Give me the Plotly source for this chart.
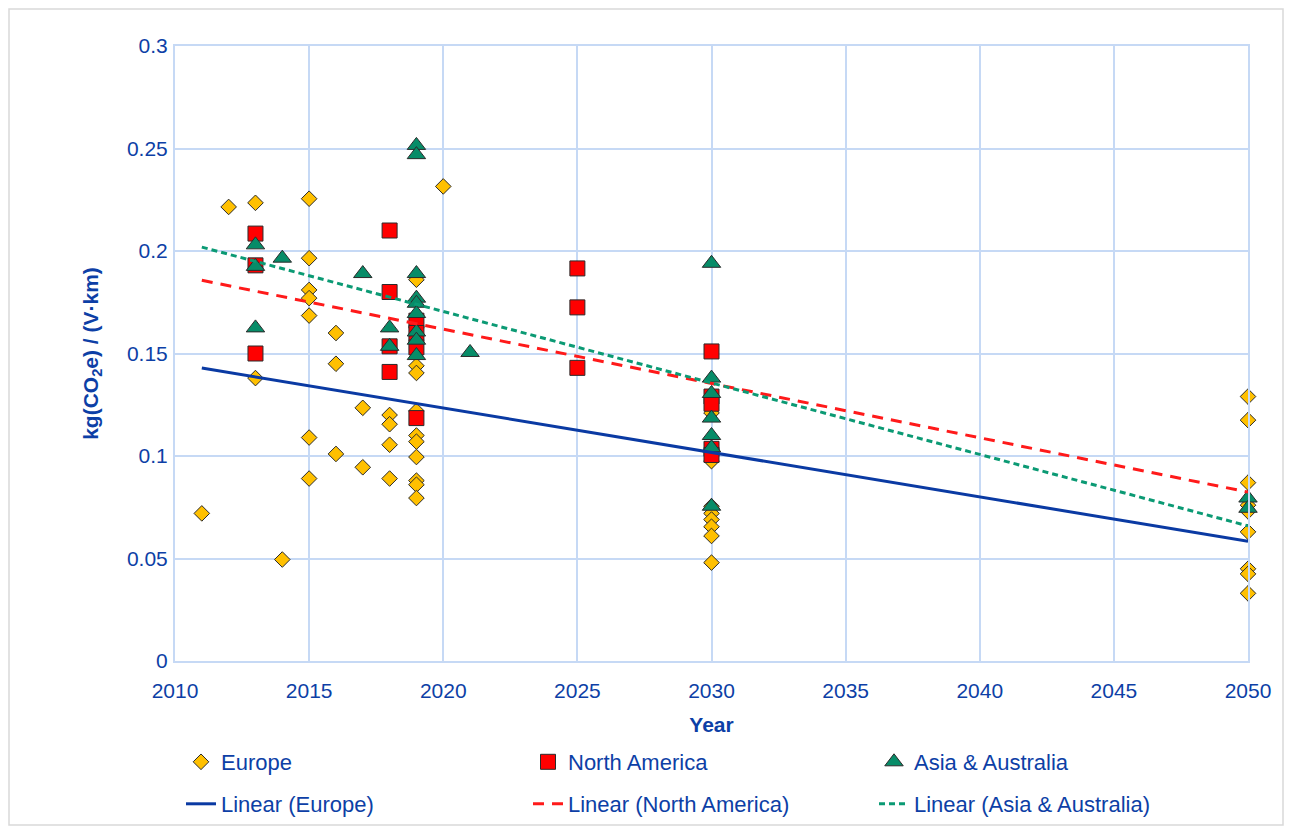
import plotly.graph_objects as go

# ---------------- data ----------------
europe_years = [2011, 2012, 2013, 2013, 2014,
                2015, 2015, 2015, 2015, 2015, 2015, 2015,
                2016, 2016, 2016, 2017, 2017,
                2018, 2018, 2018, 2018,
                2019, 2019, 2019, 2019, 2019, 2019, 2019, 2019, 2019, 2019,
                2020,
                2030, 2030, 2030, 2030, 2030, 2030, 2030, 2030,
                2050, 2050, 2050, 2050, 2050, 2050, 2050, 2050, 2050]
europe_vals = [0.072, 0.2215, 0.2235, 0.138, 0.0495,
               0.2255, 0.1965, 0.181, 0.177, 0.1685, 0.109, 0.089,
               0.160, 0.145, 0.101, 0.1235, 0.0945,
               0.120, 0.1155, 0.1055, 0.089,
               0.186, 0.144, 0.1405, 0.122, 0.110, 0.107, 0.0995, 0.088, 0.086, 0.0795,
               0.2315,
               0.121, 0.0975, 0.0755, 0.072, 0.069, 0.0655, 0.061, 0.048,
               0.129, 0.1175, 0.087, 0.076, 0.073, 0.063, 0.045, 0.0425, 0.033]

na_years = [2013, 2013, 2013,
            2018, 2018, 2018, 2018,
            2019, 2019, 2019, 2019,
            2025, 2025, 2025,
            2030, 2030, 2030, 2030, 2030]
na_vals = [0.2085, 0.193, 0.150,
           0.210, 0.180, 0.1535, 0.141,
           0.166, 0.160, 0.153, 0.1185,
           0.1915, 0.1725, 0.143,
           0.151, 0.129, 0.1255, 0.1035, 0.1005]

asia_years = [2013, 2013, 2013, 2014, 2017, 2018, 2018,
              2019, 2019, 2019, 2019, 2019, 2019, 2019, 2019, 2019,
              2021,
              2030, 2030, 2030, 2030, 2030, 2030, 2030,
              2050, 2050]
asia_vals = [0.203, 0.1925, 0.1625, 0.1965, 0.189, 0.1625, 0.1535,
             0.2515, 0.247, 0.189, 0.177, 0.1745, 0.1695, 0.1605, 0.1565, 0.149,
             0.1505,
             0.194, 0.138, 0.1305, 0.1185, 0.110, 0.104, 0.0755,
             0.0795, 0.0745]

# linear trend lines (end values)
trend_years = [2011, 2050]
trend_europe = [0.1429, 0.0584]
trend_na = [0.1857, 0.0824]
trend_asia = [0.2019, 0.0659]

x_ticks = [2010, 2015, 2020, 2025, 2030, 2035, 2040, 2045, 2050]
y_ticks = [0, 0.05, 0.1, 0.15, 0.2, 0.25, 0.3]
y_tick_text = ["0", "0.05", "0.1", "0.15", "0.2", "0.25", "0.3"]

# ---------------- styling ----------------
TXT = "#0D3FA6"
GRID = "#C6D9F5"
FONT = "Liberation Sans, Arial, sans-serif"
OUTLINE = dict(color="#2b2b2b", width=1)

fig = go.Figure()

fig.add_trace(go.Scatter(x=europe_years, y=europe_vals, mode="markers", name="Europe",
                         marker=dict(symbol="diamond", size=12, color="#FFC000", line=OUTLINE),
                         cliponaxis=False, legend="legend"))
fig.add_trace(go.Scatter(x=na_years, y=na_vals, mode="markers", name="North America",
                         marker=dict(symbol="square", size=15, color="#FF0000", line=OUTLINE),
                         cliponaxis=False, legend="legend2"))
fig.add_trace(go.Scatter(x=asia_years, y=asia_vals, mode="markers", name="Asia & Australia",
                         marker=dict(symbol="triangle-up", size=16, color="#078C68", line=OUTLINE),
                         cliponaxis=False, legend="legend3"))

fig.add_trace(go.Scatter(x=trend_years, y=trend_europe, mode="lines", name="Linear (Europe)",
                         line=dict(color="#0A3AA3", width=3), legend="legend4"))
fig.add_trace(go.Scatter(x=trend_years, y=trend_na, mode="lines", name="Linear (North America)",
                         line=dict(color="#FF1A1A", width=3, dash="11px,8px"), legend="legend5"))
fig.add_trace(go.Scatter(x=trend_years, y=trend_asia, mode="lines", name="Linear (Asia & Australia)",
                         line=dict(color="#0B9A74", width=3, dash="6px,4px"), legend="legend6"))

# page has an 8px body margin: figure starts at screen (8, 8)
OFF = 8
W, H = 1292 - 2 * OFF, 834 - 2 * OFF
PL, PR, PT, PB = 175, 1248, 46, 661   # plot area in screen pixels
PW, PH = PR - PL, PB - PT


def px_x(p):
    return (p - PL) / PW


def px_y(p):
    return (PB - p) / PH


def leg(x_text_px, y_px):
    return dict(x=px_x(x_text_px - 40), y=px_y(y_px), xanchor="left", yanchor="middle",
                orientation="h", bgcolor="rgba(0,0,0,0)",
                font=dict(family=FONT, size=22, color=TXT))


fig.update_layout(
    width=W, height=H,
    margin=dict(l=PL - OFF, r=W - (PR - OFF), t=PT - OFF, b=H - (PB - OFF), autoexpand=False),
    paper_bgcolor="white", plot_bgcolor="white",
    font=dict(family=FONT, size=20, color=TXT),
    showlegend=True,
    legend=leg(221, 762),
    legend2=leg(568, 762),
    legend3=leg(914, 762),
    legend4=leg(221, 804),
    legend5=leg(568, 804),
    legend6=leg(914, 804),
    xaxis=dict(range=[2010, 2050], tickvals=x_ticks, ticktext=[str(v) for v in x_ticks],
               showgrid=True, gridcolor=GRID, gridwidth=2,
               showline=True, linecolor=GRID, linewidth=2, mirror=True,
               zeroline=False, ticks="", ticklabelstandoff=10,
               tickfont=dict(family=FONT, size=21, color=TXT),
               title=dict(text="<b>Year</b>", standoff=16,
                          font=dict(family=FONT, size=21, color=TXT))),
    yaxis=dict(range=[0, 0.3], tickvals=y_ticks, ticktext=y_tick_text,
               showgrid=True, gridcolor=GRID, gridwidth=2,
               showline=True, linecolor=GRID, linewidth=2, mirror=True,
               zeroline=False, ticks="", ticklabelstandoff=1,
               tickfont=dict(family=FONT, size=21, color=TXT),
               title=dict(text="<b>kg(CO<sub>2</sub>e) / (V·km)</b>", standoff=23,
                          font=dict(family=FONT, size=21, color=TXT))),
)

# light grey frame around the whole chart
fig.add_shape(type="rect", xref="paper", yref="paper",
              x0=px_x(9), x1=px_x(1283), y0=px_y(825), y1=px_y(9),
              line=dict(color="#D9D9D9", width=1.5), fillcolor="rgba(0,0,0,0)", layer="below")

fig.write_html("out.html")
